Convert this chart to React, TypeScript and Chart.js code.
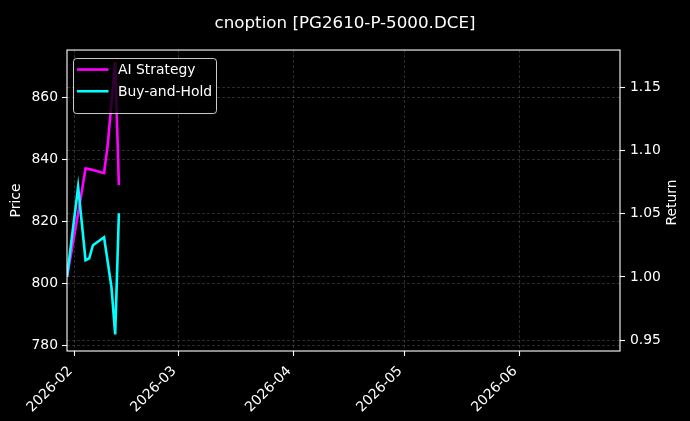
import { useEffect, useRef } from 'react';
import { Chart, registerables } from 'chart.js';

Chart.register(...registerables);

const title = 'cnoption [PG2610-P-5000.DCE]';
const returnTitle = 'Return';

// trading days shown in the chart
const dates = [
  '2026-01-30', '2026-02-02', '2026-02-03', '2026-02-04', '2026-02-05', '2026-02-06',
  '2026-02-09', '2026-02-10', '2026-02-11', '2026-02-12', '2026-02-13',
];

// cumulative return (right axis)
const aiStrategy = [1.0, 1.0505, 1.068, 1.086, 1.0855, 1.0848, 1.0823, 1.105, 1.138, 1.1703, 1.0728];
const buyAndHold = [1.0, 1.0714, 1.0426, 1.0133, 1.0148, 1.0252, 1.0315, 1.0117, 0.9918, 0.9545, 1.0505];

const monthTicks = ['2026-02', '2026-03', '2026-04', '2026-05', '2026-06'];
const priceTicks = [780, 800, 820, 840, 860];
const returnTicks = [0.95, 1.0, 1.05, 1.1, 1.15];

const priceRange = [778.3, 875.2];
const returnRange = [0.9413, 1.1799];
const dayRange = ['2026-01-30', '2026-06-28'];

const BASE = Date.UTC(2026, 1, 1);
const dayOf = (s: string) => {
  const [y, m, d] = s.split('-').map(Number);
  return (Date.UTC(y, m - 1, d || 1) - BASE) / 86400000;
};

const FONT = 'DejaVu Sans';
const GRID = 'rgba(255,255,255,0.28)';

const framePlugin = {
  id: 'frameAndLegend',
  afterDraw(chart: any) {
    const { ctx, chartArea: a } = chart;
    ctx.save();
    ctx.strokeStyle = '#ffffff';
    ctx.lineWidth = 1.1;
    ctx.strokeRect(a.left, a.top, a.right - a.left, a.bottom - a.top);

    // right axis title, read bottom to top like matplotlib
    ctx.save();
    ctx.translate(672.5, (a.top + a.bottom) / 2 + 2);
    ctx.rotate(-Math.PI / 2);
    ctx.font = `13.9px "${FONT}"`;
    ctx.fillStyle = '#ffffff';
    ctx.textAlign = 'center';
    ctx.textBaseline = 'middle';
    ctx.fillText(returnTitle, 0, 0);
    ctx.restore();

    // legend in the upper left corner
    const x = a.left + 6.5;
    const y = a.top + 8.5;
    const w = 143;
    const h = 55;
    ctx.beginPath();
    ctx.roundRect(x, y, w, h, 3);
    ctx.fillStyle = 'rgba(0,0,0,0.8)';
    ctx.fill();
    ctx.strokeStyle = 'rgba(255,255,255,0.8)';
    ctx.lineWidth = 1;
    ctx.stroke();

    ctx.font = `13.9px "${FONT}"`;
    ctx.textBaseline = 'middle';
    ctx.textAlign = 'left';
    chart.data.datasets.forEach((ds: any, i: number) => {
      const ly = y + 11 + i * 21.7;
      ctx.strokeStyle = ds.borderColor;
      ctx.lineWidth = 2.6;
      ctx.beginPath();
      ctx.moveTo(x + 3.5, ly);
      ctx.lineTo(x + 35, ly);
      ctx.stroke();
      ctx.fillStyle = '#ffffff';
      ctx.fillText(ds.label, x + 44.5, ly + 1);
    });
    ctx.restore();
  },
};

export default function App() {
  const canvasRef = useRef<HTMLCanvasElement>(null);

  useEffect(() => {
    document.body.style.margin = '0';
    document.body.style.background = '#000';
    if (!canvasRef.current) return;

    const chart = new Chart(canvasRef.current, {
      type: 'line',
      data: {
        datasets: [
          {
            label: 'AI Strategy',
            data: dates.map((d, i) => ({ x: dayOf(d), y: aiStrategy[i] })),
            borderColor: '#ff00ff',
            borderWidth: 2.6,
            pointRadius: 0,
            tension: 0,
            yAxisID: 'y1',
            order: 1,
          },
          {
            label: 'Buy-and-Hold',
            data: dates.map((d, i) => ({ x: dayOf(d), y: buyAndHold[i] })),
            borderColor: '#00ffff',
            borderWidth: 2.6,
            pointRadius: 0,
            tension: 0,
            yAxisID: 'y1',
            order: 0,
          },
        ],
      },
      options: {
        responsive: true,
        maintainAspectRatio: false,
        animation: false,
        layout: { padding: 0 },
        plugins: {
          legend: { display: false },
          tooltip: { enabled: false },
          title: {
            display: true,
            text: title,
            color: '#ffffff',
            font: { family: FONT, size: 16.7, weight: 'normal' },
            padding: { top: 14, bottom: 16 },
          },
        },
        scales: {
          x: {
            type: 'linear',
            min: dayOf(dayRange[0]),
            max: dayOf(dayRange[1]) + 0.2,
            afterBuildTicks: (s: any) => {
              s.ticks = monthTicks.map((m) => ({ value: dayOf(m) }));
            },
            afterFit: (s: any) => {
              s.height = 70;
            },
            ticks: {
              color: '#ffffff',
              font: { family: FONT, size: 13.9 },
              minRotation: 45,
              maxRotation: 45,
              autoSkip: false,
              padding: 7,
              labelOffset: -4,
              callback: (v: any) => monthTicks.find((m) => dayOf(m) === v) ?? '',
            },
            grid: { color: GRID, lineWidth: 0.6, tickColor: '#ffffff', tickLength: 5, tickWidth: 1.1 },
            border: { display: false, dash: [3, 2] },
          },
          y: {
            position: 'left',
            min: priceRange[0],
            max: priceRange[1],
            afterBuildTicks: (s: any) => {
              s.ticks = priceTicks.map((v) => ({ value: v }));
            },
            afterFit: (s: any) => {
              s.width = 67;
            },
            ticks: {
              color: '#ffffff',
              font: { family: FONT, size: 13.9 },
              padding: 4,
              callback: (v: any) => String(v),
            },
            title: {
              display: true,
              text: 'Price',
              color: '#ffffff',
              font: { family: FONT, size: 13.9 },
              padding: { top: 8, bottom: 0 },
            },
            grid: { color: GRID, lineWidth: 0.6, tickColor: '#ffffff', tickLength: 5, tickWidth: 1.1 },
            border: { display: false, dash: [3, 2] },
          },
          y1: {
            position: 'right',
            min: returnRange[0],
            max: returnRange[1],
            afterBuildTicks: (s: any) => {
              s.ticks = returnTicks.map((v) => ({ value: v }));
            },
            afterFit: (s: any) => {
              s.width = 70;
            },
            ticks: {
              color: '#ffffff',
              font: { family: FONT, size: 13.9 },
              padding: 5,
              callback: (v: any) => Number(v).toFixed(2),
            },
            grid: { color: GRID, lineWidth: 0.6, tickColor: '#ffffff', tickLength: 5, tickWidth: 1.1 },
            border: { display: false, dash: [3, 2] },
          },
        },
      },
      plugins: [framePlugin],
    });

    return () => chart.destroy();
  }, []);

  return (
    <div style={{ width: 690, height: 421, background: '#000', position: 'relative' }}>
      <canvas ref={canvasRef} />
    </div>
  );
}
